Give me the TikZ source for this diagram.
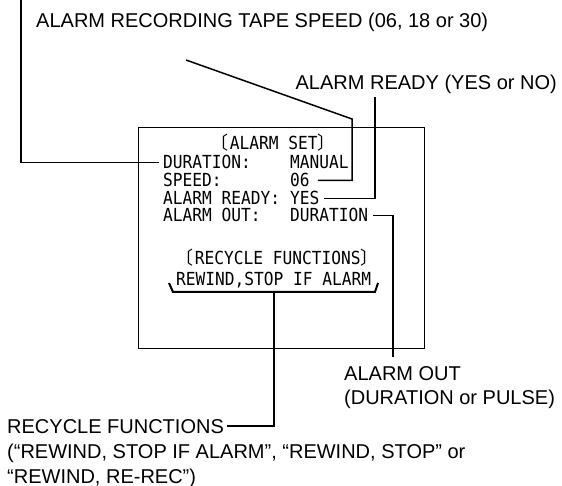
\documentclass[tikz,border=0pt]{standalone}
\usepackage{fontspec}
\setmainfont{Liberation Sans}
\newfontfamily\osd[FakeStretch=0.9]{DejaVu Sans Mono}
\newfontfamily\cjkf{Noto Sans CJK JP}
\newcommand\obr{\makebox[9.75pt][l]{\hspace{-9.5pt}{\cjkf 〔}}}
\newcommand\cbr{\makebox[9.75pt][l]{\hspace{0pt}{\cjkf 〕}}}
\begin{document}
\begin{tikzpicture}[x=1pt,y=-1pt,
  lbl/.style={font=\fontsize{20}{24}\selectfont, inner sep=0, anchor=base west},
  osdtxt/.style={font=\osd\fontsize{18}{18}\selectfont, inner sep=0, anchor=base west},
  lead/.style={line width=1.5pt},
  ]
\fill[white] (0,0) rectangle (562,486);
\useasboundingbox (0,0) rectangle (562,486);

% screen
\node[draw, line width=1.3pt, minimum width=286pt, minimum height=221pt, inner sep=0, anchor=north west] (screen) at (138,127) {};

\node[osdtxt] (hdr) at (220,150) {\obr ALARM SET\cbr};
\node[osdtxt] (durl) at (163,169) {DURATION:};
\node[osdtxt] (durv) at (290,169) {MANUAL};
\node[osdtxt] (spdl) at (163,187) {SPEED:};
\node[osdtxt] (spdv) at (290,187) {06};
\node[osdtxt] (rdyl) at (163,205) {ALARM READY:};
\node[osdtxt] (rdyv) at (290,205) {YES};
\node[osdtxt] (outl) at (163,222) {ALARM OUT:};
\node[osdtxt] (outv) at (290,222) {DURATION};
\node[osdtxt] (rhdr) at (185,265) {\obr RECYCLE FUNCTIONS\cbr};
\node[osdtxt] (rval) at (176,286) {REWIND,STOP IF ALARM};

% labels
\node[lbl] (tapelbl) at (36,28) {ALARM RECORDING TAPE SPEED (06, 18 or 30)};
\node[lbl, anchor=base east] (rdylbl) at (557,90) {ALARM READY (YES or NO)};
\node[lbl] (aol1) at (344,380) {ALARM OUT};
\node[lbl] (aol2) at (344,404) {(DURATION or PULSE)};
\node[lbl] (rec1) at (7,433) {RECYCLE FUNCTIONS};
\node[lbl] (rec2) at (7,458) {(“REWIND, STOP IF ALARM”, “REWIND, STOP” or};
\node[lbl] (rec3) at (7,483) {“REWIND, RE-REC”)};

% leaders
\coordinate (d0) at (21,0);
\draw[lead] (d0) |- ([xshift=-4pt]durl.west);
\coordinate (t0) at (186,60);
\coordinate (t1) at (352,119);
\draw[lead] (t0) -- (t1) |- ([xshift=8pt]spdv.east);
\coordinate (r0) at (375,97);
\draw[lead] (r0) |- ([xshift=4pt]rdyv.east);
\coordinate (o1) at (393,357);
\draw[lead] ([xshift=5pt]outv.east) -| (o1);
\coordinate (b1) at (169,283);
\coordinate (b2) at (173,292);
\coordinate (b3) at (375,292);
\coordinate (b4) at (378,283);
\coordinate (bm) at (274,292);
\draw[line width=2pt] (b1) -- (b2) -- (b3) -- (b4);
\draw[lead] (bm) |- ([xshift=3pt]rec1.east);
\end{tikzpicture}
\end{document}
